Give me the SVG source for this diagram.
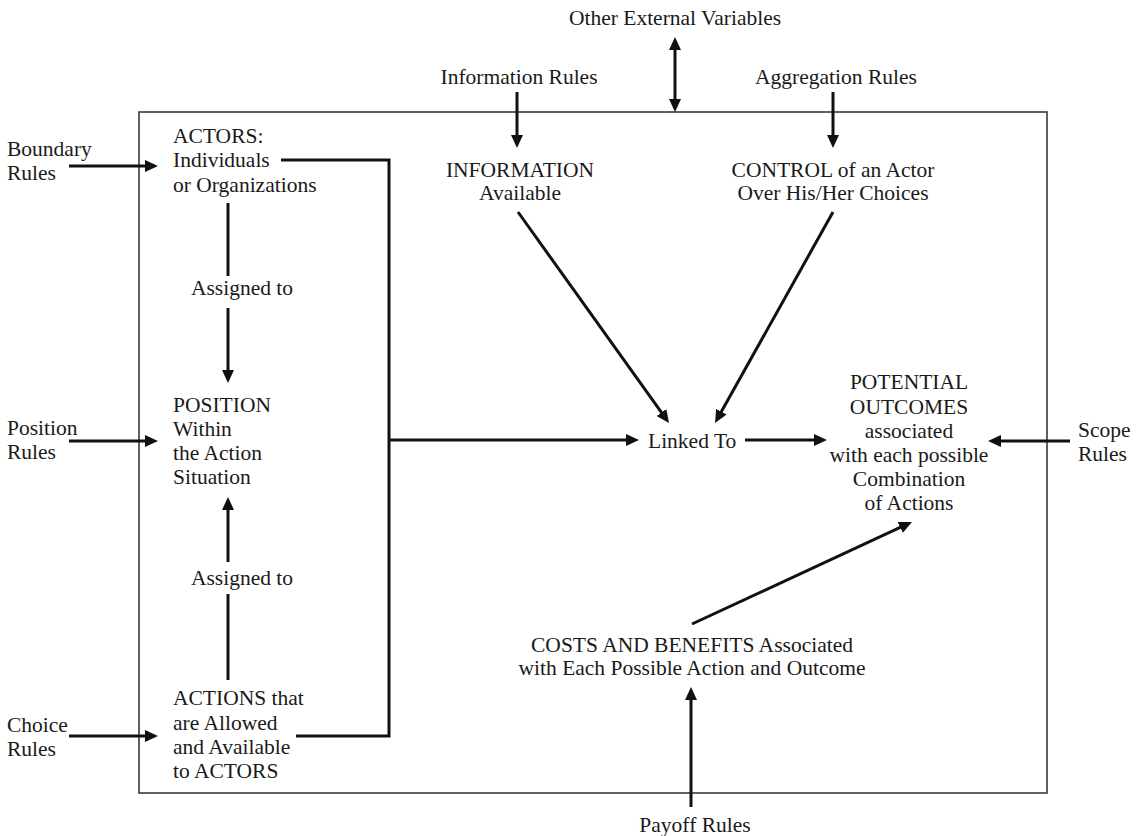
<svg xmlns="http://www.w3.org/2000/svg" width="1139" height="836" viewBox="0 0 1139 836">
<style>
text{font-family:"Liberation Serif","Times New Roman",serif;font-size:21.5px;fill:#1a1a1a}
.m{text-anchor:middle}
.c{fill:none;stroke:#111;stroke-width:3}
.a{marker-end:url(#ah)}
.box{fill:none;stroke:#3a3a3a;stroke-width:1.6}
</style>
<defs>
<marker id="ah" markerUnits="userSpaceOnUse" markerWidth="14" markerHeight="12" refX="3" refY="6" orient="auto-start-reverse">
<path d="M0,0 L13,6 L0,12 z" fill="#111"/>
</marker>
</defs>
<rect class="box" x="139" y="112" width="908" height="681"/>
<g id="connectors">
<line class="c a" x1="69" y1="166" x2="148" y2="166"/>
<line class="c a" x1="69" y1="441" x2="148" y2="441"/>
<line class="c a" x1="69" y1="736" x2="148" y2="736"/>
<line class="c" x1="228" y1="203" x2="228" y2="276"/>
<line class="c a" x1="228" y1="308" x2="228" y2="373"/>
<line class="c" x1="228" y1="680" x2="228" y2="594"/>
<line class="c a" x1="228" y1="562" x2="228" y2="507"/>
<path class="c" d="M281,160 H389 V736 H296"/>
<line class="c a" x1="389" y1="440" x2="629" y2="440"/>
<line class="c a" x1="745" y1="440" x2="817" y2="440"/>
<line class="c a" x1="1070" y1="441" x2="998" y2="441"/>
<line class="c a" x1="518" y1="212" x2="663.2" y2="414.9"/>
<line class="c a" x1="833" y1="212" x2="719.9" y2="414.3"/>
<line class="c a" x1="692" y1="624" x2="902.9" y2="526.2"/>
<line class="c a" x1="691" y1="807" x2="691" y2="697"/>
<line class="c a" x1="517" y1="92" x2="517" y2="138"/>
<line class="c a" x1="833" y1="92" x2="833" y2="138"/>
<line class="c" x1="675" y1="47" x2="675" y2="102" marker-start="url(#ah)" marker-end="url(#ah)"/>
</g>
<g id="other-external"><text class="m" x="675" y="25">Other External Variables</text></g>
<g id="information-rules"><text class="m" x="519" y="84">Information Rules</text></g>
<g id="aggregation-rules"><text class="m" x="836" y="84">Aggregation Rules</text></g>
<g id="boundary-rules"><text x="7" y="156">Boundary</text><text x="7" y="180">Rules</text></g>
<g id="actors"><text x="173" y="143">ACTORS:</text><text x="173" y="167">Individuals</text><text x="173" y="192">or Organizations</text></g>
<g id="assigned1"><text class="m" x="242" y="295">Assigned to</text></g>
<g id="information"><text class="m" x="520" y="177">INFORMATION</text><text class="m" x="520" y="200">Available</text></g>
<g id="control"><text class="m" x="833" y="177">CONTROL of an Actor</text><text class="m" x="833" y="200">Over His/Her Choices</text></g>
<g id="position-rules"><text x="7" y="435">Position</text><text x="7" y="459">Rules</text></g>
<g id="position"><text x="173" y="412">POSITION</text><text x="173" y="436">Within</text><text x="173" y="460">the Action</text><text x="173" y="484">Situation</text></g>
<g id="linked-to"><text x="648" y="448">Linked To</text></g>
<g id="outcomes"><text class="m" x="909" y="389">POTENTIAL</text><text class="m" x="909" y="414">OUTCOMES</text><text class="m" x="909" y="438">associated</text><text class="m" x="909" y="462">with each possible</text><text class="m" x="909" y="486">Combination</text><text class="m" x="909" y="510">of Actions</text></g>
<g id="scope-rules"><text x="1078" y="437">Scope</text><text x="1078" y="461">Rules</text></g>
<g id="assigned2"><text class="m" x="242" y="585">Assigned to</text></g>
<g id="costs"><text class="m" x="692" y="652">COSTS AND BENEFITS Associated</text><text class="m" x="692" y="675">with Each Possible Action and Outcome</text></g>
<g id="actions"><text x="173" y="705">ACTIONS that</text><text x="173" y="730">are Allowed</text><text x="173" y="754">and Available</text><text x="173" y="778">to ACTORS</text></g>
<g id="choice-rules"><text x="7" y="732">Choice</text><text x="7" y="756">Rules</text></g>
<g id="payoff-rules"><text class="m" x="695" y="832">Payoff Rules</text></g>
</svg>
